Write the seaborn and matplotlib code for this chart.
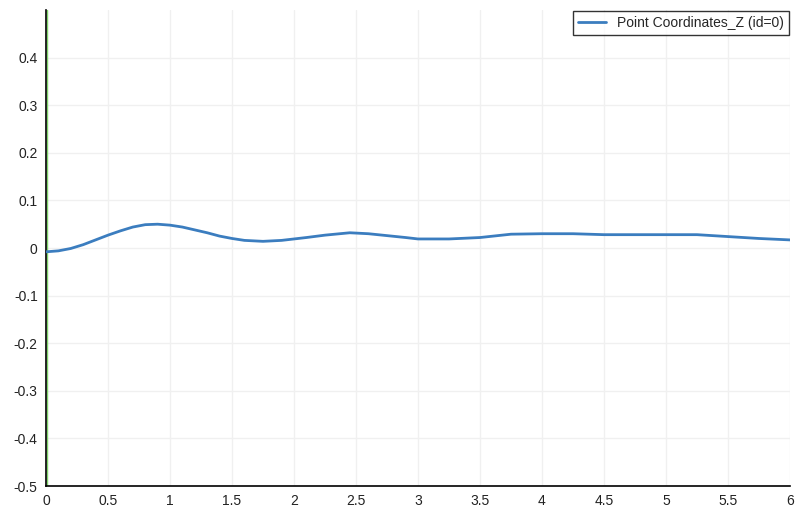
import numpy as np
import pandas as pd
import matplotlib
matplotlib.use("Agg")
import matplotlib.pyplot as plt
import seaborn as sns

# values
time = [0.0, 0.1, 0.2, 0.3, 0.4, 0.5, 0.6, 0.7, 0.8, 0.9, 1.0, 1.1, 1.2, 1.3,
        1.4, 1.5, 1.6, 1.75, 1.9, 2.0, 2.1, 2.25, 2.45, 2.6, 2.75, 2.9, 3.0,
        3.25, 3.5, 3.75, 4.0, 4.25, 4.5, 5.0, 5.25, 5.5, 5.75, 6.0]
coord_z = [-0.008, -0.006, -0.001, 0.007, 0.017, 0.027, 0.036, 0.044, 0.049,
           0.050, 0.048, 0.044, 0.038, 0.032, 0.025, 0.020, 0.016, 0.014,
           0.016, 0.019, 0.022, 0.027, 0.032, 0.030, 0.026, 0.022, 0.019,
           0.019, 0.022, 0.029, 0.030, 0.030, 0.028, 0.028, 0.028, 0.024,
           0.020, 0.017]
series_name = "Point Coordinates_Z (id=0)"
xticks = [0, 0.5, 1, 1.5, 2, 2.5, 3, 3.5, 4, 4.5, 5, 5.5, 6]
yticks = [-0.5, -0.4, -0.3, -0.2, -0.1, 0, 0.1, 0.2, 0.3, 0.4]

df = pd.DataFrame({"t": time, "z": coord_z})

sns.set_style("white")
plt.rcParams['font.family'] = ['Liberation Sans', 'DejaVu Sans']

fig = plt.figure(figsize=(7.96, 5.13), dpi=100)
ax = fig.add_axes([46 / 796, 1 - 486 / 513, 744 / 796, 476 / 513])

ax.axvline(0.009, color="#7fd36a", lw=1.0, zorder=1)
sns.lineplot(data=df, x="t", y="z", ax=ax, color="#3b7dbf", lw=2.0,
             label=series_name, zorder=3)

ax.set_xlim(0, 6)
ax.set_ylim(-0.5, 0.5)
ax.set_xticks(xticks)
ax.set_xticklabels([f"{v:g}" for v in xticks])
ax.set_yticks(yticks)
ax.set_yticklabels([f"{v:g}" for v in yticks])
ax.set_xlabel("")
ax.set_ylabel("")
ax.grid(True, color="#f0f0f0", lw=1)
ax.set_axisbelow(True)

for s in ["top", "right"]:
    ax.spines[s].set_visible(False)
for s in ["left", "bottom"]:
    ax.spines[s].set_color("black")
    ax.spines[s].set_linewidth(1.2)
ax.tick_params(axis="both", direction="out", length=5, width=1, colors="#222222",
               labelsize=10, pad=1)

leg = ax.legend(loc="upper right", frameon=True, fancybox=False, fontsize=10,
                handlelength=2, borderpad=0.35, borderaxespad=0.1)
leg.get_frame().set_edgecolor("black")
leg.get_frame().set_linewidth(1)

fig.savefig("out.png", dpi=100)
